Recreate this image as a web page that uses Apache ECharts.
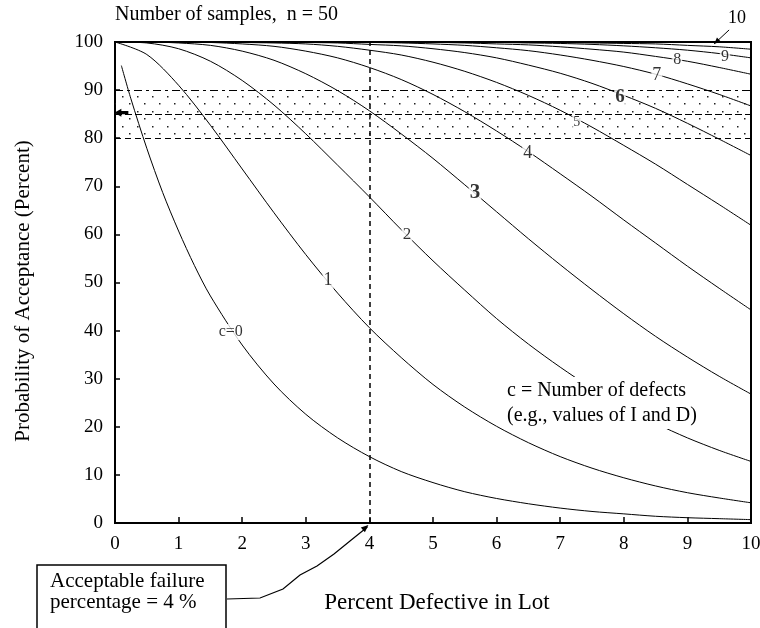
<!DOCTYPE html>
<html>
<head>
<meta charset="utf-8">
<script src="https://cdn.jsdelivr.net/npm/echarts@6/dist/echarts.min.js"></script>
<style>
  html, body { margin: 0; padding: 0; background: #fff; }
  #chart { width: 760px; height: 628px; }
</style>
</head>
<body>
<div id="chart"></div>
<script>
// percent defective in lot (x) and probability of acceptance (y, %)
var pctSteps = [0, 0.5, 1, 1.5, 2, 2.5, 3, 3.5, 4, 4.5, 5, 5.5, 6, 6.5, 7, 7.5, 8, 8.5, 9, 9.5, 10];
var pctC0 = [0.1, 0.25, 0.5, 0.75, 1, 1.25, 1.5, 2, 2.5, 3, 3.5, 4, 4.5, 5, 5.5, 6, 6.5, 7, 7.5, 8, 8.5, 9, 9.5, 10];

var acceptC0 = [95.1, 88.2, 77.9, 68.7, 60.7, 53.5, 47.2, 37.0, 28.9, 22.6, 17.7, 13.8, 10.7, 8.4, 6.5, 5.1, 4.0, 3.1, 2.4, 1.9, 1.4, 1.1, 0.9, 0.7];
var acceptC1 = [100, 97.4, 91.0, 82.7, 73.6, 64.5, 55.8, 47.8, 40.6, 34.4, 28.8, 24.1, 20.1, 16.7, 13.8, 11.4, 9.4, 7.7, 6.3, 5.2, 4.2];
var acceptC2 = [100, 99.8, 98.6, 96.0, 92.0, 86.9, 80.9, 74.4, 67.8, 61.0, 54.5, 48.4, 42.5, 37.2, 32.4, 28.0, 24.1, 20.7, 17.7, 15.1, 12.8];
var acceptC3 = [100, 100, 99.8, 99.3, 98.1, 96.2, 93.4, 89.9, 85.7, 80.9, 75.8, 70.3, 64.7, 59.1, 53.7, 48.5, 43.5, 38.8, 34.5, 30.5, 26.8];
var acceptC4 = [100, 100, 100, 99.9, 99.6, 99.1, 98.1, 96.7, 94.7, 92.2, 89.1, 85.5, 81.5, 77.2, 72.6, 67.9, 63.0, 58.2, 53.4, 48.8, 44.3];
var acceptC5 = [100, 100, 100, 100, 99.9, 99.8, 99.6, 99.1, 98.3, 97.3, 95.8, 93.9, 91.6, 88.9, 85.8, 82.3, 78.5, 74.6, 70.4, 66.2, 61.9];
var acceptC6 = [100, 100, 100, 100, 100, 100, 99.9, 99.8, 99.5, 99.2, 98.6, 97.8, 96.7, 95.2, 93.5, 91.4, 88.9, 86.2, 83.1, 79.8, 76.4];
var acceptC7 = [100, 100, 100, 100, 100, 100, 100, 99.9, 99.9, 99.8, 99.6, 99.3, 98.8, 98.2, 97.3, 96.2, 94.9, 93.3, 91.3, 89.1, 86.7];
var acceptC8 = [100, 100, 100, 100, 100, 100, 100, 100, 100, 99.9, 99.9, 99.8, 99.6, 99.4, 99.0, 98.5, 97.9, 97.0, 96.0, 94.7, 93.3];
var acceptC9 = [100, 100, 100, 100, 100, 100, 100, 100, 100, 100, 100, 99.9, 99.9, 99.8, 99.7, 99.5, 99.2, 98.8, 98.3, 97.6, 96.7];
var acceptC10 = [100, 100, 100, 100, 100, 100, 100, 100, 100, 100, 100, 100, 99.9, 99.9, 99.9, 99.8, 99.7, 99.6, 99.3, 99.0, 98.5];

var curveNames = ['c=0', '1', '2', '3', '4', '5', '6', '7', '8', '9', '10'];

// where the curve numbers are written
var labelPct = [1.82, 3.35, 4.59, 5.66, 6.49, 7.26, 7.94, 8.52, 8.84, 9.59];
var labelAccept = [39.7, 50.5, 59.9, 68.6, 76.9, 83.2, 88.6, 93.1, 96.3, 96.9];
var labelSize = [16, 18, 17, 21, 18, 14, 19, 18, 16, 16];
var labelBold = [false, false, false, true, false, false, true, false, false, false];

// acceptance band and the chosen failure percentage
var bandLines = [90, 85, 80];
var acceptablePct = 4;

var FONT = '"Liberation Serif", "Times New Roman", serif';

var chart = echarts.init(document.getElementById('chart'));

function dotPattern() {
  var c = document.createElement('canvas');
  c.width = 15;
  c.height = 15;
  var g = c.getContext('2d');
  g.fillStyle = '#222';
  g.fillRect(2, 6, 1.5, 1.5);
  g.fillRect(9, 13, 1.5, 1.5);
  return c;
}

var curveValues = [acceptC0, acceptC1, acceptC2, acceptC3, acceptC4, acceptC5,
  acceptC6, acceptC7, acceptC8, acceptC9, acceptC10];

var series = curveValues.map(function (vals, i) {
  var xs = i === 0 ? pctC0 : pctSteps;
  return {
    name: curveNames[i],
    type: 'line',
    symbol: 'none',
    smooth: 0.3,
    silent: true,
    lineStyle: { color: '#000', width: 1 },
    data: vals.map(function (v, j) { return [xs[j], v]; })
  };
});

// band, reference lines and the arrow at 85 hang off the first curve
series[0].markArea = {
  silent: true,
  itemStyle: { color: { image: dotPattern(), repeat: 'repeat' } },
  data: [[{ yAxis: bandLines[2] }, { yAxis: bandLines[0] }]]
};
series[0].markLine = {
  silent: true,
  symbol: ['none', 'none'],
  label: { show: false },
  lineStyle: { color: '#000', width: 1.2 },
  data: [
    { yAxis: bandLines[0], lineStyle: { type: [8, 4, 3, 4] } },
    { yAxis: bandLines[1], lineStyle: { type: [7, 3] } },
    { yAxis: bandLines[2], lineStyle: { type: [6, 4] } },
    { xAxis: acceptablePct, lineStyle: { type: [5, 4], width: 1.5 } }
  ]
};
series[0].markPoint = {
  silent: true,
  label: { show: false },
  data: [{
    coord: [0.1, bandLines[1] + 0.3],
    symbol: 'path://M0,5 L8,0 L8,3 L16,3 L16,7 L8,7 L8,10 Z',
    symbolSize: [14, 8],
    itemStyle: { color: '#000' }
  }]
};

series.push({
  name: 'curve labels',
  type: 'scatter',
  symbolSize: 1,
  silent: true,
  z: 5,
  itemStyle: { color: 'rgba(0,0,0,0)' },
  data: labelPct.map(function (x, i) {
    return {
      value: [x, labelAccept[i]],
      label: {
        show: true,
        position: 'inside',
        formatter: curveNames[i],
        fontFamily: FONT,
        fontSize: labelSize[i],
        fontWeight: labelBold[i] ? 'bold' : 'normal',
        color: '#000',
        backgroundColor: '#fff',
        padding: [0, 1]
      }
    };
  })
});

chart.setOption({
  animation: false,
  backgroundColor: '#fff',
  grid: {
    left: 115, right: 9, top: 42, bottom: 105,
    containLabel: false,
    outerBoundsMode: 'none',
    show: true,
    borderColor: '#000',
    borderWidth: 2
  },
  xAxis: {
    type: 'value',
    min: 0, max: 10, interval: 1,
    axisLine: { lineStyle: { color: '#000', width: 2 } },
    axisTick: { inside: true, length: 6, lineStyle: { color: '#000', width: 1.5 } },
    axisLabel: { margin: 12, color: '#000', fontFamily: FONT, fontSize: 19 },
    splitLine: { show: false }
  },
  yAxis: {
    type: 'value',
    min: 0, max: 100, interval: 10,
    axisLine: { lineStyle: { color: '#000', width: 2 } },
    axisTick: { inside: true, length: 5, lineStyle: { color: '#000', width: 1.5 } },
    axisLabel: { margin: 12, color: '#000', fontFamily: FONT, fontSize: 19 },
    splitLine: { show: false }
  },
  series: series
});

// annotations outside the plot
function arrowHead(tip, from, size) {
  var ang = Math.atan2(tip[1] - from[1], tip[0] - from[0]);
  var a1 = ang + Math.PI - 0.4, a2 = ang + Math.PI + 0.4;
  return {
    type: 'polygon',
    shape: { points: [tip,
      [tip[0] + size * Math.cos(a1), tip[1] + size * Math.sin(a1)],
      [tip[0] + size * Math.cos(a2), tip[1] + size * Math.sin(a2)]] },
    style: { fill: '#000' }
  };
}

var axisTip = chart.convertToPixel({ gridIndex: 0 }, [acceptablePct, 0]);
var tenTip = chart.convertToPixel({ gridIndex: 0 }, [9.42, 99.6]);
var connector = [[227, 599], [260, 598], [283, 589], [300, 575], [317, 566], [334, 554], [350, 541], [axisTip[0] - 2, axisTip[1] + 4]];
var tenFrom = [tenTip[0] + 15, tenTip[1] - 14];

chart.setOption({
  graphic: [
    {
      type: 'text', left: 115, top: 5,
      style: { text: 'Number of samples,  n = 50', font: '20px ' + FONT, fill: '#000' }
    },
    {
      type: 'text', x: 23, y: 291, rotation: Math.PI / 2,
      style: { text: 'Probability of Acceptance (Percent)', font: '21px ' + FONT, fill: '#000', align: 'center', verticalAlign: 'middle' }
    },
    {
      type: 'text', x: 437, y: 603,
      style: { text: 'Percent Defective in Lot', font: '23px ' + FONT, fill: '#000', align: 'center', verticalAlign: 'middle' }
    },
    {
      type: 'text', left: 505, top: 377, z: 10,
      style: { text: 'c = Number of defects\n(e.g., values of I and D)', font: '20px ' + FONT, lineHeight: 25, fill: '#000', backgroundColor: '#fff', padding: [1, 2] }
    },
    {
      type: 'rect', shape: { x: 37, y: 565, width: 189, height: 70 },
      style: { fill: '#fff', stroke: '#000', lineWidth: 1.5 }
    },
    {
      type: 'text', left: 50, top: 571,
      style: { text: 'Acceptable failure\npercentage = 4 %', font: '21px ' + FONT, lineHeight: 21, fill: '#000' }
    },
    {
      type: 'polyline', shape: { points: connector },
      style: { stroke: '#000', lineWidth: 1.2, fill: null }
    },
    arrowHead([axisTip[0] - 1, axisTip[1] + 2], connector[connector.length - 2], 8),
    {
      type: 'text', x: tenTip[0] + 23, y: 18,
      style: { text: '10', font: '18px ' + FONT, fill: '#000', align: 'center', verticalAlign: 'middle' }
    },
    {
      type: 'line', shape: { x1: tenFrom[0], y1: tenFrom[1], x2: tenTip[0], y2: tenTip[1] },
      style: { stroke: '#000', lineWidth: 1 }
    },
    arrowHead(tenTip, tenFrom, 7)
  ]
});
</script>
</body>
</html>
